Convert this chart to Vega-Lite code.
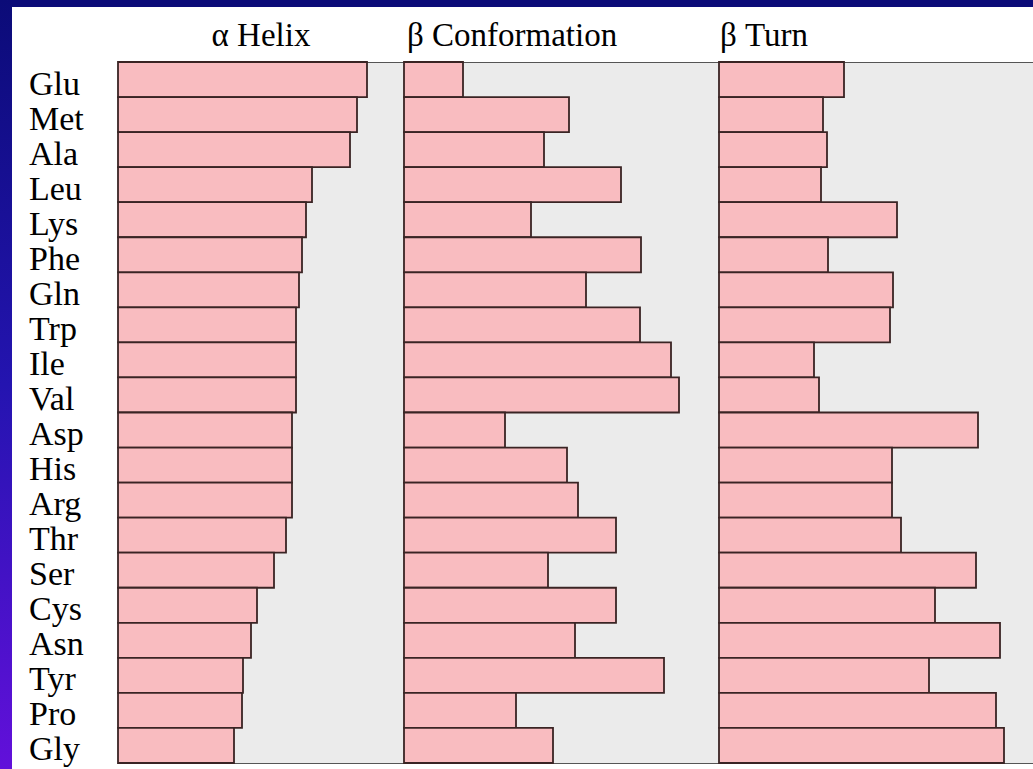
{
  "$schema": "https://vega.github.io/schema/vega-lite/v6.json",
  "padding": 0,
  "background": "white",
  "spacing": 0,
  "config": {
    "concat": {"spacing": 0},
    "font": "Liberation Serif",
    "title": {"font": "Liberation Serif", "fontSize": 33, "fontWeight": "normal", "color": "black", "baseline": "alphabetic", "offset": 8}
  },
  "datasets": {
    "cf": [
      {"residue": "Glu", "structure": "helix", "value": 249},
      {"residue": "Met", "structure": "helix", "value": 239},
      {"residue": "Ala", "structure": "helix", "value": 232},
      {"residue": "Leu", "structure": "helix", "value": 194},
      {"residue": "Lys", "structure": "helix", "value": 188},
      {"residue": "Phe", "structure": "helix", "value": 184},
      {"residue": "Gln", "structure": "helix", "value": 181},
      {"residue": "Trp", "structure": "helix", "value": 178},
      {"residue": "Ile", "structure": "helix", "value": 178},
      {"residue": "Val", "structure": "helix", "value": 178},
      {"residue": "Asp", "structure": "helix", "value": 174},
      {"residue": "His", "structure": "helix", "value": 174},
      {"residue": "Arg", "structure": "helix", "value": 174},
      {"residue": "Thr", "structure": "helix", "value": 168},
      {"residue": "Ser", "structure": "helix", "value": 156},
      {"residue": "Cys", "structure": "helix", "value": 139},
      {"residue": "Asn", "structure": "helix", "value": 133},
      {"residue": "Tyr", "structure": "helix", "value": 125},
      {"residue": "Pro", "structure": "helix", "value": 124},
      {"residue": "Gly", "structure": "helix", "value": 116},
      {"residue": "Glu", "structure": "sheet", "value": 59},
      {"residue": "Met", "structure": "sheet", "value": 165},
      {"residue": "Ala", "structure": "sheet", "value": 140},
      {"residue": "Leu", "structure": "sheet", "value": 217},
      {"residue": "Lys", "structure": "sheet", "value": 127},
      {"residue": "Phe", "structure": "sheet", "value": 237},
      {"residue": "Gln", "structure": "sheet", "value": 182},
      {"residue": "Trp", "structure": "sheet", "value": 236},
      {"residue": "Ile", "structure": "sheet", "value": 267},
      {"residue": "Val", "structure": "sheet", "value": 275},
      {"residue": "Asp", "structure": "sheet", "value": 101},
      {"residue": "His", "structure": "sheet", "value": 163},
      {"residue": "Arg", "structure": "sheet", "value": 174},
      {"residue": "Thr", "structure": "sheet", "value": 212},
      {"residue": "Ser", "structure": "sheet", "value": 144},
      {"residue": "Cys", "structure": "sheet", "value": 212},
      {"residue": "Asn", "structure": "sheet", "value": 171},
      {"residue": "Tyr", "structure": "sheet", "value": 260},
      {"residue": "Pro", "structure": "sheet", "value": 112},
      {"residue": "Gly", "structure": "sheet", "value": 149},
      {"residue": "Glu", "structure": "turn", "value": 125},
      {"residue": "Met", "structure": "turn", "value": 104},
      {"residue": "Ala", "structure": "turn", "value": 108},
      {"residue": "Leu", "structure": "turn", "value": 102},
      {"residue": "Lys", "structure": "turn", "value": 178},
      {"residue": "Phe", "structure": "turn", "value": 109},
      {"residue": "Gln", "structure": "turn", "value": 174},
      {"residue": "Trp", "structure": "turn", "value": 171},
      {"residue": "Ile", "structure": "turn", "value": 95},
      {"residue": "Val", "structure": "turn", "value": 100},
      {"residue": "Asp", "structure": "turn", "value": 259},
      {"residue": "His", "structure": "turn", "value": 173},
      {"residue": "Arg", "structure": "turn", "value": 173},
      {"residue": "Thr", "structure": "turn", "value": 182},
      {"residue": "Ser", "structure": "turn", "value": 257},
      {"residue": "Cys", "structure": "turn", "value": 216},
      {"residue": "Asn", "structure": "turn", "value": 281},
      {"residue": "Tyr", "structure": "turn", "value": 210},
      {"residue": "Pro", "structure": "turn", "value": 277},
      {"residue": "Gly", "structure": "turn", "value": 285}
    ]
  },
  "hconcat": [
    {
      "width": 12,
      "height": 769,
      "data": {"values": [{"a": 0}]},
      "view": {"stroke": null},
      "mark": {"type": "rect", "color": {"gradient": "linear", "x1": 0, "y1": 0, "x2": 0, "y2": 1, "stops": [{"offset": 0, "color": "#0b0b78"}, {"offset": 0.5, "color": "#2414b0"}, {"offset": 1, "color": "#6210da"}]}},
      "encoding": {
        "x": {"datum": 0, "type": "quantitative", "scale": {"domain": [0, 1], "nice": false}, "axis": null},
        "x2": {"datum": 1},
        "y": {"datum": 0, "type": "quantitative", "scale": {"domain": [0, 1], "nice": false}, "axis": null},
        "y2": {"datum": 1}
      }
    },
    {
      "spacing": 12,
      "vconcat": [
        {
          "width": 1021,
          "height": 7,
          "data": {"values": [{"a": 0}]},
          "view": {"stroke": null},
          "mark": {"type": "rect", "color": "#0b0b78"},
          "encoding": {
            "x": {"datum": 0, "type": "quantitative", "scale": {"domain": [0, 1], "nice": false}, "axis": null},
            "x2": {"datum": 1},
            "y": {"datum": 0, "type": "quantitative", "scale": {"domain": [0, 1], "nice": false}, "axis": null},
            "y2": {"datum": 1}
          }
        },
        {
          "spacing": 0,
          "bounds": "flush",
          "hconcat": [
            {
              "width": 106,
              "height": 701,
              "data": {"name": "cf"},
              "transform": [{"filter": "datum.structure === 'helix'"}],
              "view": {"stroke": null},
              "mark": {"type": "text", "font": "Liberation Serif", "fontSize": 34, "color": "black", "align": "left", "baseline": "alphabetic", "dx": -36, "dy": 15},
              "encoding": {
                "y": {"field": "residue", "type": "nominal", "sort": null, "scale": {"paddingInner": 0, "paddingOuter": 0}, "axis": null},
                "text": {"field": "residue", "type": "nominal"}
              }
            },
            {
              "width": 286,
              "height": 701,
              "title": {"text": "α Helix", "frame": "group", "anchor": "middle"},
              "data": {"name": "cf"},
              "transform": [{"filter": "datum.structure === 'helix'"}],
              "view": {"fill": "#ebebeb", "stroke": "#555555", "strokeWidth": 1},
              "mark": {"type": "bar", "fill": "#f9bcc0", "stroke": "#3a2424", "strokeWidth": 1.8, "opacity": 1},
              "encoding": {
                "y": {"field": "residue", "type": "nominal", "sort": null, "scale": {"paddingInner": 0, "paddingOuter": 0}, "axis": null},
                "x": {"field": "value", "type": "quantitative", "scale": {"domain": [0, 286], "nice": false}, "axis": null}
              }
            },
            {
              "width": 315,
              "height": 701,
              "title": {"text": "β Conformation", "frame": "group", "anchor": "start", "dx": 3},
              "data": {"name": "cf"},
              "transform": [{"filter": "datum.structure === 'sheet'"}],
              "view": {"fill": "#ebebeb", "stroke": "#555555", "strokeWidth": 1},
              "mark": {"type": "bar", "fill": "#f9bcc0", "stroke": "#3a2424", "strokeWidth": 1.8, "opacity": 1},
              "encoding": {
                "y": {"field": "residue", "type": "nominal", "sort": null, "scale": {"paddingInner": 0, "paddingOuter": 0}, "axis": null},
                "x": {"field": "value", "type": "quantitative", "scale": {"domain": [0, 315], "nice": false}, "axis": null}
              }
            },
            {
              "width": 315,
              "height": 701,
              "title": {"text": "β Turn", "frame": "group", "anchor": "start", "dx": 1},
              "data": {"name": "cf"},
              "transform": [{"filter": "datum.structure === 'turn'"}],
              "view": {"fill": "#ebebeb", "stroke": "#555555", "strokeWidth": 1},
              "mark": {"type": "bar", "fill": "#f9bcc0", "stroke": "#3a2424", "strokeWidth": 1.8, "opacity": 1},
              "encoding": {
                "y": {"field": "residue", "type": "nominal", "sort": null, "scale": {"paddingInner": 0, "paddingOuter": 0}, "axis": null},
                "x": {"field": "value", "type": "quantitative", "scale": {"domain": [0, 315], "nice": false}, "axis": null}
              }
            }
          ]
        }
      ]
    }
  ]
}
